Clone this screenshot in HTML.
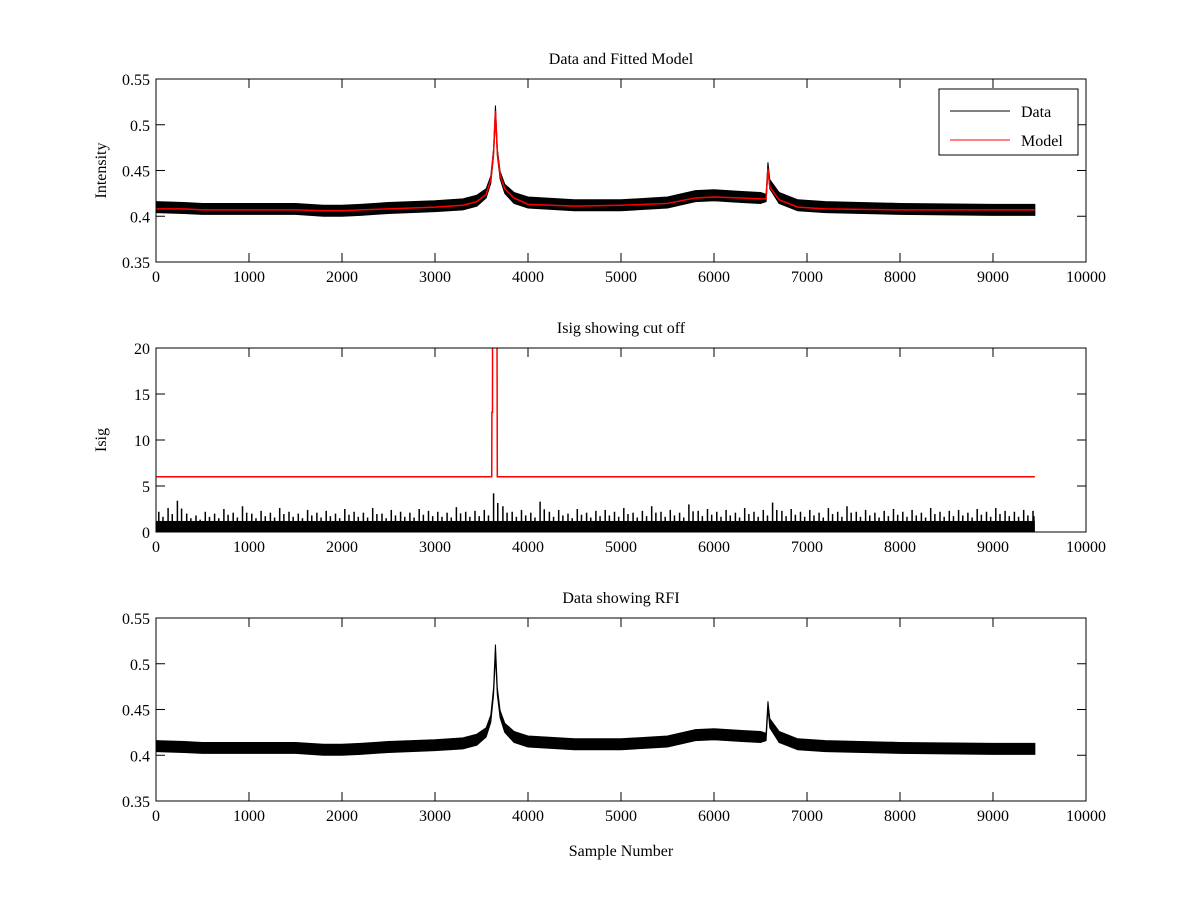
<!DOCTYPE html>
<html><head><meta charset="utf-8"><style>
body{margin:0;background:#fff}
svg text{font-family:"Liberation Serif",serif;font-size:16px;fill:#000}
</style></head><body>
<svg id="fig" width="1200" height="900" xmlns="http://www.w3.org/2000/svg"></svg>
<script>
// Top & bottom panel: intensity envelope (sample, centre value, half-width)
const intSamples=[0,300,500,1000,1500,1800,2000,2200,2500,3000,3300,3450,3550,3600,3630,3650,3670,3700,3750,3850,4000,4500,5000,5500,5800,6000,6300,6500,6560,6580,6600,6700,6900,7200,8000,9000,9450];
const intCenter=[0.410,0.409,0.408,0.408,0.408,0.406,0.406,0.407,0.409,0.411,0.413,0.417,0.425,0.44,0.47,0.515,0.47,0.445,0.43,0.42,0.415,0.412,0.412,0.415,0.422,0.423,0.421,0.42,0.42,0.455,0.435,0.42,0.412,0.41,0.408,0.407,0.407];
const intHalf=[0.006,0.006,0.006,0.006,0.006,0.006,0.006,0.006,0.006,0.006,0.006,0.006,0.005,0.004,0.004,0.006,0.004,0.004,0.005,0.006,0.006,0.006,0.006,0.006,0.006,0.006,0.006,0.006,0.004,0.004,0.005,0.006,0.006,0.006,0.006,0.006,0.006];
const modelVals=[0.408,0.408,0.407,0.407,0.407,0.406,0.406,0.407,0.408,0.410,0.412,0.416,0.424,0.44,0.47,0.515,0.47,0.445,0.43,0.42,0.413,0.411,0.412,0.414,0.42,0.421,0.42,0.419,0.419,0.452,0.432,0.418,0.410,0.408,0.407,0.407,0.407];
// Middle panel: Isig per 100-sample bin: typical level and peak
const isigBase=1.2;
const isigHi=[2.2,2.6,3.4,2.0,1.8,2.2,2.0,2.5,2.1,2.8,2.0,2.3,2.1,2.6,2.2,2.0,2.4,2.1,2.3,2.0,2.5,2.2,2.1,2.6,2.0,2.4,2.2,2.1,2.5,2.3,2.2,2.1,2.7,2.2,2.3,2.4,4.2,2.8,2.2,2.4,2.1,3.3,2.2,2.4,2.0,2.5,2.1,2.3,2.4,2.2,2.6,2.1,2.3,2.8,2.2,2.4,2.1,3.0,2.3,2.5,2.2,2.4,2.1,2.6,2.2,2.4,3.2,2.3,2.5,2.2,2.4,2.1,2.6,2.2,2.8,2.2,2.4,2.1,2.3,2.5,2.2,2.4,2.1,2.6,2.2,2.3,2.4,2.1,2.5,2.2,2.6,2.3,2.2,2.4,2.3];
const cutSamples=[0,3610,3612,3618,3620,3665,3670,9450];
const cutVals=[6,6,13,13,30,30,6,6];
const xTicks=[0,1000,2000,3000,4000,5000,6000,7000,8000,9000,10000];
const intTicks=[0.35,0.4,0.45,0.5,0.55];
const isigTicks=[0,5,10,15,20];

const NS="http://www.w3.org/2000/svg";
const svg=document.getElementById('fig');
function el(t,a,p){const e=document.createElementNS(NS,t);for(const k in a)e.setAttribute(k,a[k]);(p||svg).appendChild(e);return e;}
const X0=156,X1=1086;
function panel(name,top,bot,ymin,ymax,yticks,title,ylabel,xlabel){
  const g=el('g',{});
  
  
  const sx=v=>X0+(v-0)/10000*(X1-X0);
  const sy=v=>bot-(v-ymin)/(ymax-ymin)*(bot-top);
  const cp='clip-'+name;
  const c=el('clipPath',{id:cp},g);el('rect',{x:X0,y:top,width:X1-X0,height:bot-top},c);
  const plot=el('g',{'clip-path':'url(#'+cp+')'},g);
  el('rect',{x:X0,y:top,width:X1-X0,height:bot-top,fill:'none',stroke:'#000','stroke-width':1},g);
  xTicks.forEach(t=>{const x=sx(t);
    el('line',{x1:x,x2:x,y1:bot,y2:bot-9,stroke:'#000'},g);
    el('line',{x1:x,x2:x,y1:top,y2:top+9,stroke:'#000'},g);
    const tx=el('text',{x:x,y:bot+20,'text-anchor':'middle'},g);tx.textContent=t;
    });
  yticks.forEach(t=>{const y=sy(t);
    el('line',{x1:X0,x2:X0+9,y1:y,y2:y,stroke:'#000'},g);
    el('line',{x1:X1,x2:X1-9,y1:y,y2:y,stroke:'#000'},g);
    const tx=el('text',{x:X0-6,y:y+6,'text-anchor':'end'},g);tx.textContent=String(t);
    });
  const tt=el('text',{x:(X0+X1)/2,y:top-15,'text-anchor':'middle'},g);tt.textContent=title;
  
  const yl=el('text',{x:0,y:0,'text-anchor':'middle',transform:`translate(${X0-50},${(top+bot)/2}) rotate(-90)`},g);yl.textContent=ylabel;
  
  if(xlabel){const xl=el('text',{x:(X0+X1)/2,y:bot+55,'text-anchor':'middle'},g);xl.textContent=xlabel;
    }
  return {plot,sx,sy};
}
function band(p,xs,c,h,col,name){
  let up=xs.map((s,i)=>p.sx(s)+','+p.sy(c[i]+h[i]));
  let dn=xs.map((s,i)=>p.sx(s)+','+p.sy(c[i]-h[i])).reverse();
  const b=el('polygon',{points:up.concat(dn).join(' '),fill:col,stroke:col,'stroke-width':1},p.plot);
  
}
function line(p,xs,v,col,name){
  const l=el('polyline',{points:xs.map((s,i)=>p.sx(s)+','+p.sy(v[i])).join(' '),fill:'none',stroke:col,'stroke-width':1.5},p.plot);
  
}
// Panel 1
const p1=panel('data-model-panel',79,262,0.35,0.55,intTicks,'Data and Fitted Model','Intensity');
band(p1,intSamples,intCenter,intHalf,'#000','data-series');
line(p1,intSamples,modelVals,'#f00','model-series');
// legend
const lg=el('g',{});
el('rect',{x:939,y:89,width:139,height:66,fill:'#fff',stroke:'#000'},lg);
el('line',{x1:950,x2:1010,y1:111,y2:111,stroke:'#000'},lg);
let t=el('text',{x:1021,y:117},lg);t.textContent='Data';
el('line',{x1:950,x2:1010,y1:140,y2:140,stroke:'#f00'},lg);
t=el('text',{x:1021,y:146},lg);t.textContent='Model';
// Panel 2
const p2=panel('isig-panel',348,532,0,20,isigTicks,'Isig showing cut off','Isig');
const ib=el('rect',{x:p2.sx(0),y:p2.sy(isigBase),width:p2.sx(9450)-p2.sx(0),height:p2.sy(0)-p2.sy(isigBase),fill:'#000'},p2.plot);

isigHi.forEach((v,i)=>{
  const s=i*100;
  const a=el('line',{x1:p2.sx(s+30),x2:p2.sx(s+30),y1:p2.sy(0),y2:p2.sy(v),stroke:'#000','stroke-width':1.5},p2.plot);
  
  
  const s2=Math.min(s+75,9440);
  const b=el('line',{x1:p2.sx(s2),x2:p2.sx(s2),y1:p2.sy(0),y2:p2.sy(v*0.75),stroke:'#000','stroke-width':1.5},p2.plot);
  
  
});
const cl=el('polyline',{points:cutSamples.map((s,i)=>p2.sx(s)+','+p2.sy(cutVals[i])).join(' '),fill:'none',stroke:'#f00','stroke-width':1.5},p2.plot);

// Panel 3
const p3=panel('rfi-panel',618,801,0.35,0.55,intTicks,'Data showing RFI','','Sample Number');
band(p3,intSamples,intCenter,intHalf,'#000','rfi-data-series');
</script>
</body></html>
